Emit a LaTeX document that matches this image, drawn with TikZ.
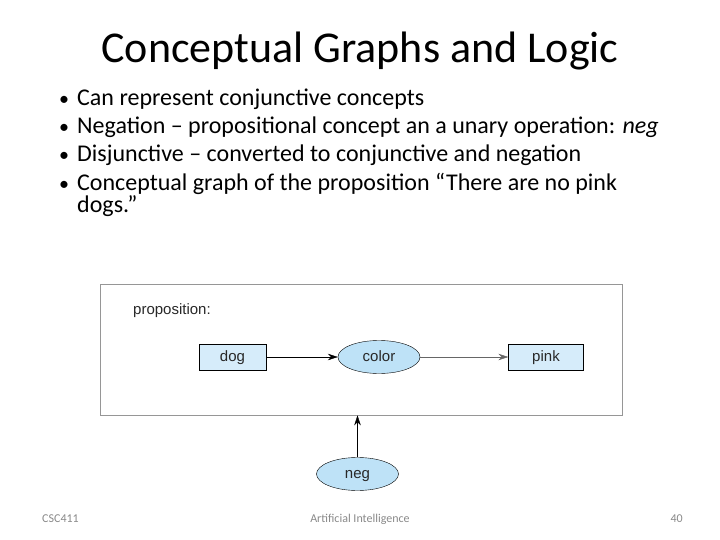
\documentclass[tikz,border=0pt]{standalone}
\usepackage{fontspec}
\setmainfont{Carlito}
\newfontfamily\figfont{Liberation Sans}
\usetikzlibrary{arrows.meta,shapes.geometric}
\definecolor{conceptfill}{RGB}{214,236,250}
\definecolor{relfill}{RGB}{190,226,247}
\definecolor{framegray}{RGB}{150,150,150}
\definecolor{footgray}{RGB}{137,137,137}
\definecolor{figtext}{RGB}{40,40,40}
\begin{document}
\begin{tikzpicture}[
    x=1pt,y=-1pt,
    bullet/.style={anchor=base west,font=\fontsize{24}{28}\selectfont,inner sep=0pt},
    dot/.style={anchor=base,font=\fontsize{20}{24}\selectfont,inner sep=0pt},
    concept/.style={draw,fill=conceptfill,minimum width=67pt,minimum height=26pt,inner sep=0pt,text height=12pt,text depth=4pt,text=figtext,font=\figfont\fontsize{15}{17}\selectfont},
    relation/.style={draw,ellipse,fill=relfill,minimum width=82pt,minimum height=33pt,inner sep=0pt,text height=12pt,text depth=4pt,text=figtext,font=\figfont\fontsize{15}{17}\selectfont},
    foot/.style={font=\fontsize{12}{14}\selectfont,text=footgray,inner sep=0pt},
    arr/.style={-{Stealth[length=10pt,width=6.5pt]}}
]
\useasboundingbox (0,0) rectangle (720,540);
% title and bullets
\node[font=\fontsize{44}{52}\selectfont,inner sep=0pt] (title) at (360,51) {Conceptual Graphs and Logic};
\node[dot] (b1dot) at (64,106) {\textbullet};
\node[bullet] (b1) at (77,106) {Can represent conjunctive concepts};
\node[dot] (b2dot) at (64,134) {\textbullet};
\node[bullet] (b2) at (77,134) {Negation -- propositional concept an a unary operation: \textit{neg}};
\node[dot] (b3dot) at (64,162) {\textbullet};
\node[bullet] (b3) at (77,162) {Disjunctive -- converted to conjunctive and negation};
\node[dot] (b4dot) at (64,191) {\textbullet};
\node[bullet] (b4) at (77,191) {Conceptual graph of the proposition “There are no pink};
\node[bullet] (b4b) at (77,213) {dogs.”};
% conceptual graph
\node[draw=framegray,semithick,minimum width=522pt,minimum height=131pt,inner sep=0pt] (frame) at (361,349.5) {};
\node[anchor=base west,inner sep=0pt,font=\figfont\fontsize{15}{17}\selectfont,text=figtext] (proplabel) at (133,314) {proposition:};
\node[concept] (dog) at (232.5,357) {dog};
\node[relation] (color) at (379,357) {color};
\node[concept,minimum width=75pt] (pink) at (546,357) {pink};
\node[relation] (neg) at (357.5,474) {neg};
\draw[arr] (dog) -- (color);
\draw[arr,draw=black!60] (color) -- (pink);
\draw[arr] (neg) -- (neg.north |- frame.south);
% footer
\node[foot,anchor=west] (course) at (42,519) {CSC411};
\node[foot] (subject) at (360,519) {Artificial Intelligence};
\node[foot,anchor=east] (page) at (683,519) {40};
\end{tikzpicture}
\end{document}
